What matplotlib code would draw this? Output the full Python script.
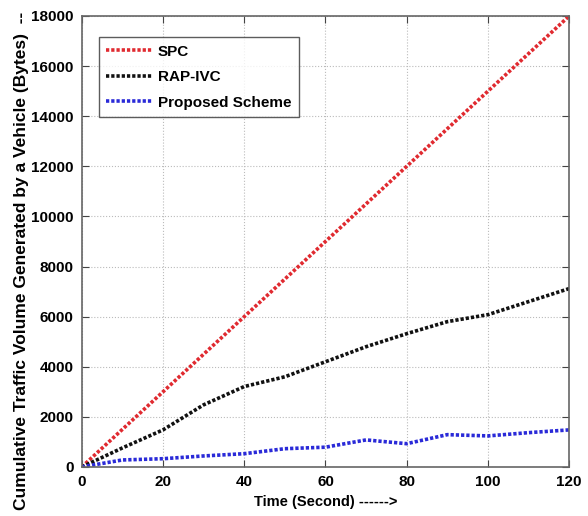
import numpy as np
import matplotlib.pyplot as plt

plt.rcParams['font.family'] = ['Liberation Sans', 'DejaVu Sans']
plt.rcParams['font.weight'] = 'bold'

# time axis (seconds)
t = [0, 10, 20, 30, 40, 50, 60, 70, 80, 90, 100, 110, 120]

# cumulative bytes per scheme
spc = [0, 1500, 3000, 4500, 6000, 7500, 9000, 10500, 12000, 13500, 15000, 16500, 18000]
rap_ivc = [0, 760, 1480, 2480, 3210, 3600, 4200, 4800, 5320, 5800, 6080, 6600, 7120]
proposed = [0, 280, 330, 440, 530, 730, 790, 1080, 930, 1290, 1240, 1370, 1480]

fig = plt.figure(figsize=(5.88, 5.16), dpi=100)
ax = fig.add_axes([0.139, 0.095, 0.829, 0.874])

dots = (0, (0.9, 0.55))  # dense matlab-ish dotted line
ax.plot(t, spc, linestyle=dots, color='#e02a30', linewidth=2.6, label='SPC')
ax.plot(t, rap_ivc, linestyle=dots, color='#111111', linewidth=2.6, label='RAP-IVC')
ax.plot(t, proposed, linestyle=dots, color='#2a2ad8', linewidth=2.6, label='Proposed Scheme')

ax.set_xlim(0, 120)
ax.set_ylim(0, 18000)
ax.set_xticks(np.arange(0, 121, 20))
ax.set_yticks(np.arange(0, 18001, 2000))
ax.tick_params(direction='in', top=True, right=True, labelsize=11, length=5,
               color='#444444', pad=6)
for lbl in ax.get_xticklabels() + ax.get_yticklabels():
    lbl.set_fontweight('bold')
for sp in ax.spines.values():
    sp.set_color('#666666')
    sp.set_linewidth(1.2)

ax.grid(True, linestyle=':', color='#bbbbbb', linewidth=0.8)

ax.set_xlabel('Time (Second) ------>', fontsize=10.5, fontweight='bold', labelpad=4)
# only the start of the arrow is visible in the original, the rest runs off the top
fig.text(0.036, 0.012, 'Cumulative Traffic Volume Generated by a Vehicle (Bytes)  --',
         rotation=90, ha='center', va='bottom', fontsize=12.5, fontweight='bold')

leg = ax.legend(loc='upper left', bbox_to_anchor=(0.035, 0.953), borderaxespad=0,
                fontsize=11, handlelength=3, frameon=True, fancybox=False,
                borderpad=0.5, labelspacing=0.75, handletextpad=0.35)
leg.get_frame().set_edgecolor('#333333')
leg.get_frame().set_linewidth(1.0)
for txt in leg.get_texts():
    txt.set_fontweight('bold')

fig.savefig('out.png', dpi=100)
